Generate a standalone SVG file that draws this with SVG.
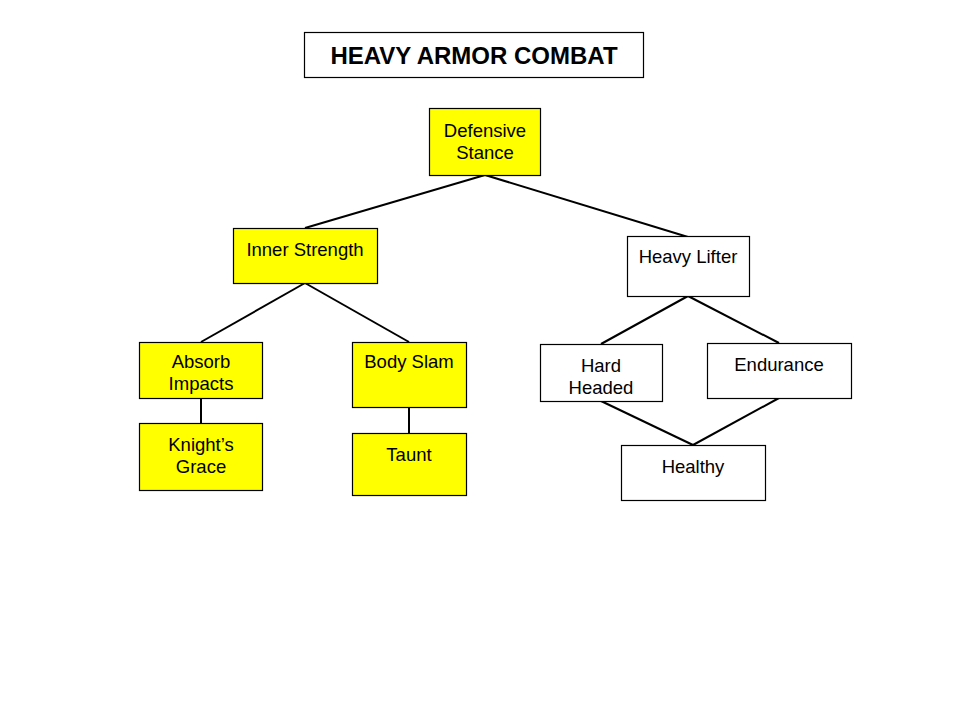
<svg xmlns="http://www.w3.org/2000/svg" width="960" height="720" viewBox="0 0 960 720">
<style>
.box{stroke:#000;stroke-width:1.2}
.y{fill:#ffff00}
.w{fill:#fff}
.t{font-family:"Liberation Sans",Arial,sans-serif;font-size:18.5px;fill:#000;text-anchor:middle}
.title{font-family:"Liberation Sans",Arial,sans-serif;font-size:24px;font-weight:bold;fill:#000;text-anchor:middle}
.c line{stroke:#000;stroke-width:2}
</style>
<rect width="960" height="720" fill="#fff"/>
<g id="connectors" class="c">
<line x1="485" y1="175" x2="305" y2="228"/>
<line x1="485" y1="175" x2="688" y2="237"/>
<line x1="305" y1="283" x2="201" y2="342"/>
<line x1="305" y1="283" x2="409" y2="342"/>
<line x1="201" y1="398" x2="201" y2="423"/>
<line x1="409" y1="407" x2="409" y2="433"/>
<line x1="688" y1="296" x2="601" y2="344"/>
<line x1="688" y1="296" x2="779" y2="343"/>
<line x1="601" y1="401" x2="693" y2="445"/>
<line x1="779" y1="398" x2="693" y2="445"/>
</g>
<g id="title"><rect class="box w" x="304.5" y="32.5" width="339" height="45"/><text class="title" x="474" y="64">HEAVY ARMOR COMBAT</text></g>
<g id="defensive-stance"><rect class="box y" x="429.5" y="108.5" width="111" height="67"/><text class="t" x="485" y="137">Defensive</text><text class="t" x="485" y="159">Stance</text></g>
<g id="inner-strength"><rect class="box y" x="233.5" y="228.5" width="144" height="55"/><text class="t" x="305" y="256">Inner Strength</text></g>
<g id="absorb-impacts"><rect class="box y" x="139.5" y="342.5" width="123" height="56"/><text class="t" x="201" y="368">Absorb</text><text class="t" x="201" y="390">Impacts</text></g>
<g id="body-slam"><rect class="box y" x="352.5" y="342.5" width="114" height="65"/><text class="t" x="409" y="368">Body Slam</text></g>
<g id="knights-grace"><rect class="box y" x="139.5" y="423.5" width="123" height="67"/><text class="t" x="201" y="451">Knight’s</text><text class="t" x="201" y="473">Grace</text></g>
<g id="taunt"><rect class="box y" x="352.5" y="433.5" width="114" height="62"/><text class="t" x="409" y="461">Taunt</text></g>
<g id="heavy-lifter"><rect class="box w" x="627.5" y="236.5" width="122" height="60"/><text class="t" x="688" y="263">Heavy Lifter</text></g>
<g id="hard-headed"><rect class="box w" x="540.5" y="344.5" width="122" height="57"/><text class="t" x="601" y="372">Hard</text><text class="t" x="601" y="394">Headed</text></g>
<g id="endurance"><rect class="box w" x="707.5" y="343.5" width="144" height="55"/><text class="t" x="779" y="371">Endurance</text></g>
<g id="healthy"><rect class="box w" x="621.5" y="445.5" width="144" height="55"/><text class="t" x="693" y="473">Healthy</text></g>
</svg>
